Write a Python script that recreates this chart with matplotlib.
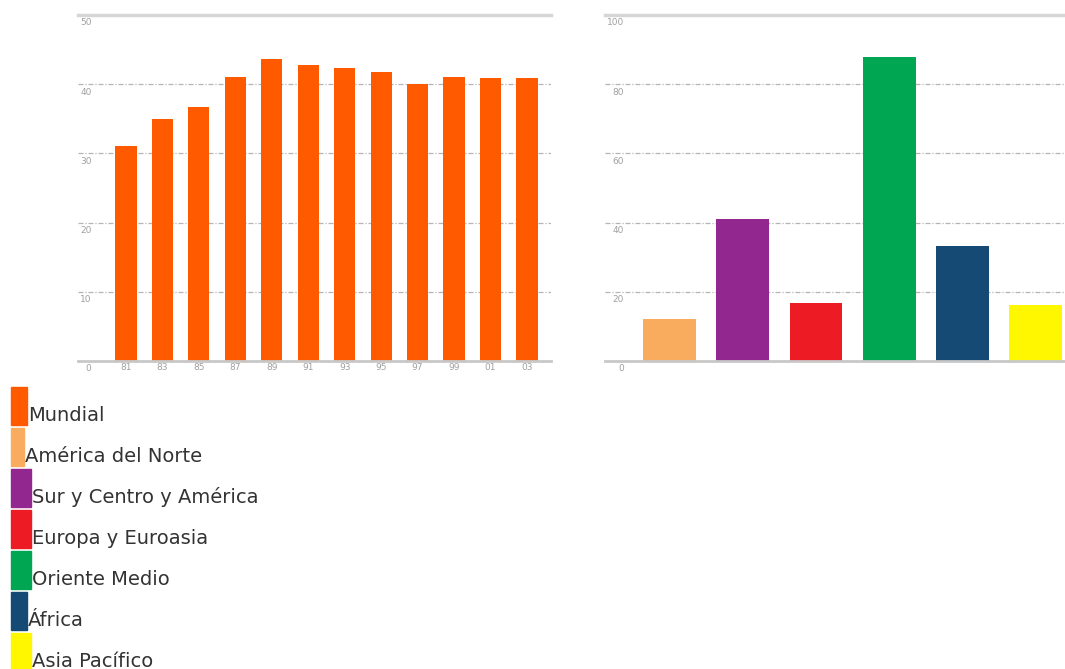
import matplotlib
matplotlib.use("Agg")
import matplotlib.pyplot as plt
from matplotlib.patches import Rectangle
from matplotlib.transforms import offset_copy, blended_transform_factory

# ---- data ----
years = ["81", "83", "85", "87", "89", "91", "93", "95", "97", "99", "01", "03"]
mundial = [31.0, 34.9, 36.7, 41.1, 43.6, 42.8, 42.3, 41.8, 40.0, 41.1, 40.9, 40.9]

regions = ["América del Norte", "Sur y Centro y América", "Europa y Euroasia",
           "Oriente Medio", "África", "Asia Pacífico"]
region_values = [12.0, 41.0, 16.8, 88.0, 33.3, 16.1]
region_colors = ["#F9AC5D", "#92278F", "#ED1C24", "#00A651", "#154A75", "#FFF700"]
mundial_color = "#FF5A00"

left_yticks = [0, 10, 20, 30, 40, 50]
right_yticks = [0, 20, 40, 60, 80, 100]

legend_labels = ["Mundial"] + regions
legend_colors = [mundial_color] + region_colors

W, H = 1065, 669
fig = plt.figure(figsize=(W / 100, H / 100), dpi=100)
fig.patch.set_facecolor("white")

def px_axes(x0, x1, y_top, y_bot):
    return fig.add_axes([x0 / W, 1 - y_bot / H, (x1 - x0) / W, (y_bot - y_top) / H])

tick_color = "#a0a0a0"
tick_fs = 6.5

def style_axes(ax, ymax, yticks, label_dx):
    ax.set_facecolor("none")
    for s in ax.spines.values():
        s.set_visible(False)
    ax.set_xticks([])
    ax.set_yticks([])
    ax.set_ylim(0, ymax)
    for t in yticks[1:-1]:
        ax.axhline(t, color="#b5b5b5", lw=0.9, ls=(0, (4, 1.5, 1, 1.5)), zorder=0)
    ax.axhline(ymax, color="#d6d6d6", lw=2.5, zorder=0, clip_on=False)
    ax.axhline(0, color="#c8c8c8", lw=2.0, zorder=3, clip_on=False)
    tr = blended_transform_factory(ax.transAxes, ax.transData)
    tr = offset_copy(tr, fig=fig, x=label_dx, y=-2.5, units="points")
    for t in yticks:
        ax.text(0, t, str(t), transform=tr, ha="right", va="top",
                fontsize=tick_fs, color=tick_color, clip_on=False)

# ---- left chart ----
axL = px_axes(78, 551, 15, 361)
style_axes(axL, 50, left_yticks, 9.8)
xs = list(range(len(years)))
axL.bar(xs, mundial, width=0.58, color=mundial_color, zorder=2)
axL.set_xlim(-1.317, 11.66)
trx = offset_copy(axL.transData, fig=fig, x=0, y=-5, units="points")
for x, lab in zip(xs, years):
    axL.text(x, 0, lab, transform=trx, ha="center", va="center",
             fontsize=tick_fs, color=tick_color, clip_on=False)

# ---- right chart ----
axR = px_axes(605, 1065, 15, 361)
style_axes(axR, 100, right_yticks, 13.5)
xr = list(range(len(regions)))
axR.bar(xr, region_values, width=0.72, color=region_colors, zorder=2)
axR.set_xlim(-0.88, 5.40)

# ---- legend ----
rect_w = [16, 13, 20, 20, 20, 16, 20]
for i, (lab, col) in enumerate(zip(legend_labels, legend_colors)):
    top = 387 + 41 * i
    h = 38
    fig.patches.append(Rectangle((11 / W, 1 - (top + h) / H), rect_w[i] / W, h / H,
                                 transform=fig.transFigure, color=col))
    fig.text((11 + rect_w[i] + 1) / W, 1 - (top + 34) / H, lab,
             fontsize=14, color="#333333", ha="left", va="baseline",
             family="DejaVu Sans")

fig.savefig("out.png", dpi=100)
